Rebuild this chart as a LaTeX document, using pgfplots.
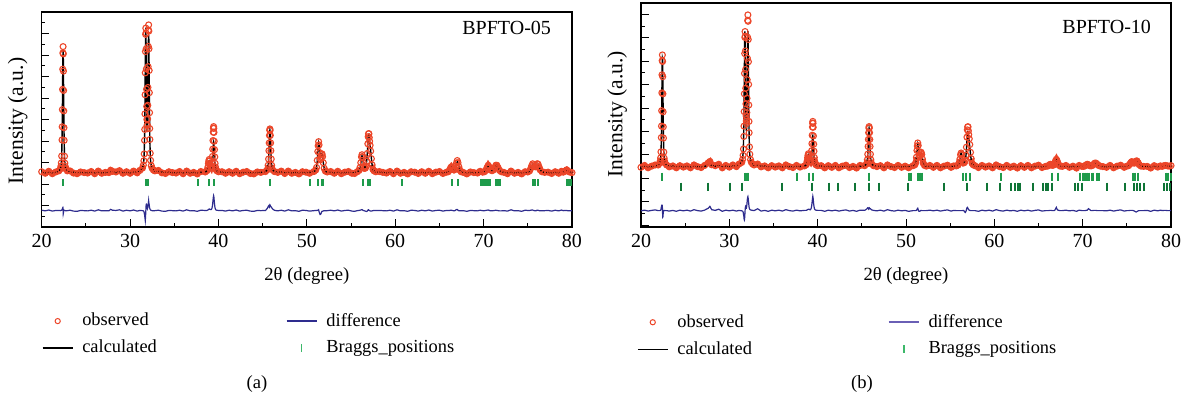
\documentclass[border=0pt]{standalone}
\usepackage{fontspec}
\setmainfont{Liberation Serif}
\usepackage{pgfplots}
\usepackage{pgfplotstable}
\pgfplotsset{compat=1.18}

\definecolor{obsred}{HTML}{EC4629}
\definecolor{diffblue}{HTML}{2E2C8E}
\definecolor{difflight}{HTML}{6A5FB5}
\definecolor{braggA}{HTML}{1E9B4B}
\definecolor{braggB}{HTML}{0F7436}
\definecolor{legendgreen}{HTML}{3DB86A}

\pgfplotstableread{
x obs calc diff
20.0 2.57 2.53 0.78
20.4 2.50 2.53 0.75
20.8 2.59 2.53 0.79
21.2 2.48 2.53 0.74
21.6 2.56 2.54 0.77
21.94 2.61 2.60 0.77
22.10 2.70 2.70 0.76
22.18 2.83 2.82 0.77
22.22 2.98 2.96 0.78
22.26 3.30 3.28 0.78
22.30 4.05 4.01 0.80
22.32 4.66 4.60 0.82
22.34 5.46 5.38 0.84
22.36 6.40 6.29 0.87
22.38 7.34 7.20 0.90
22.40 8.10 7.95 0.91
22.42 8.39 8.23 0.88
22.44 8.05 7.95 0.62
22.46 7.25 7.20 0.66
22.48 6.35 6.29 0.74
22.50 5.40 5.38 0.78
22.52 4.62 4.60 0.77
22.54 4.03 4.01 0.78
22.58 3.29 3.28 0.77
22.62 2.97 2.96 0.77
22.66 2.82 2.82 0.76
22.74 2.70 2.70 0.76
22.90 2.61 2.61 0.76
23.2 2.61 2.56 0.78
23.6 2.51 2.55 0.74
24.0 2.48 2.54 0.73
24.4 2.56 2.53 0.77
24.8 2.53 2.53 0.76
25.2 2.51 2.53 0.75
25.6 2.58 2.53 0.78
26.0 2.48 2.53 0.74
26.4 2.60 2.53 0.80
26.8 2.50 2.53 0.75
27.2 2.54 2.53 0.76
27.6 2.53 2.55 0.75
27.8 2.64 2.56 0.82
28.0 2.59 2.55 0.78
28.4 2.56 2.54 0.77
28.8 2.62 2.56 0.80
29.2 2.50 2.54 0.74
29.6 2.57 2.53 0.78
30.0 2.50 2.53 0.75
30.4 2.60 2.54 0.79
30.8 2.52 2.57 0.74
31.1 2.63 2.61 0.77
31.40 2.74 2.74 0.76
31.50 2.88 2.89 0.75
31.56 3.08 3.12 0.72
31.60 3.40 3.50 0.66
31.64 4.03 4.22 0.57
31.66 4.54 4.80 0.50
31.68 5.26 5.60 0.42
31.70 6.15 6.55 0.36
31.72 7.17 7.60 0.30
31.74 8.16 8.50 0.42
31.76 8.96 9.15 0.57
31.78 9.25 9.27 0.74
31.80 9.02 8.85 0.93
31.82 8.28 8.00 1.04
31.84 7.35 7.05 1.06
31.86 6.41 6.12 1.05
31.88 5.61 5.38 0.99
31.90 5.00 4.82 0.94
31.92 4.72 4.58 0.90
31.94 4.57 4.45 0.88
31.96 4.74 4.65 0.85
31.98 5.03 4.91 0.88
32.00 5.66 5.50 0.92
32.02 6.49 6.28 0.97
32.04 7.46 7.18 1.04
32.06 8.40 8.06 1.10
32.08 9.16 8.78 1.14
32.10 9.40 8.94 1.22
32.12 9.11 8.73 1.14
32.14 8.29 7.95 1.10
32.16 7.28 7.00 1.04
32.18 6.25 6.04 0.97
32.20 5.32 5.16 0.92
32.22 4.58 4.46 0.88
32.24 4.07 3.98 0.85
32.28 3.43 3.38 0.81
32.32 3.10 3.07 0.79
32.40 2.85 2.84 0.77
32.50 2.73 2.73 0.76
32.64 2.65 2.65 0.76
32.80 2.61 2.61 0.76
33.2 2.63 2.58 0.78
33.6 2.52 2.56 0.74
34.0 2.49 2.55 0.73
34.4 2.57 2.54 0.77
34.8 2.53 2.53 0.76
35.2 2.51 2.53 0.75
35.6 2.58 2.53 0.78
36.0 2.48 2.53 0.74
36.4 2.60 2.53 0.80
36.8 2.50 2.53 0.75
37.2 2.54 2.53 0.76
37.6 2.47 2.53 0.73
38.0 2.58 2.54 0.78
38.50 2.56 2.55 0.77
38.70 2.62 2.61 0.77
38.80 2.78 2.75 0.79
38.86 2.95 2.90 0.81
38.90 3.06 3.00 0.82
38.95 3.14 3.06 0.84
39.00 3.08 3.01 0.83
39.06 2.92 2.86 0.82
39.12 2.80 2.75 0.81
39.18 2.76 2.71 0.81
39.24 2.83 2.74 0.85
39.28 2.99 2.85 0.90
39.32 3.28 3.05 0.99
39.35 3.62 3.28 1.10
39.38 4.02 3.55 1.23
39.41 4.41 3.81 1.36
39.43 4.60 3.94 1.42
39.45 4.67 3.97 1.46
39.47 4.59 3.92 1.43
39.49 4.40 3.80 1.36
39.52 3.99 3.53 1.22
39.55 3.60 3.27 1.09
39.58 3.26 3.04 0.98
39.62 2.96 2.84 0.88
39.66 2.79 2.72 0.83
39.72 2.68 2.65 0.79
39.80 2.62 2.60 0.78
40.00 2.57 2.56 0.77
40.4 2.57 2.55 0.77
40.8 2.50 2.54 0.74
41.2 2.57 2.53 0.78
41.6 2.50 2.53 0.75
42.0 2.59 2.53 0.79
42.4 2.48 2.53 0.74
42.8 2.55 2.53 0.77
43.2 2.58 2.53 0.78
43.6 2.49 2.53 0.74
44.0 2.47 2.53 0.73
44.4 2.56 2.53 0.77
44.8 2.54 2.54 0.76
45.32 2.58 2.58 0.77
45.52 2.66 2.66 0.86
45.62 2.87 2.86 0.95
45.67 3.16 3.14 0.98
45.71 3.55 3.52 1.00
45.74 3.91 3.87 0.96
45.77 4.26 4.21 0.92
45.80 4.50 4.44 0.94
45.82 4.56 4.50 0.98
45.84 4.50 4.44 1.02
45.87 4.26 4.21 1.00
45.90 3.91 3.87 0.97
45.93 3.55 3.52 0.95
45.97 3.16 3.14 0.93
46.02 2.87 2.86 0.90
46.12 2.66 2.66 0.84
46.32 2.58 2.58 0.78
46.7 2.54 2.56 0.75
47.1 2.60 2.55 0.78
47.5 2.49 2.54 0.74
47.9 2.60 2.53 0.80
48.3 2.50 2.53 0.75
48.7 2.54 2.53 0.76
49.1 2.47 2.53 0.73
49.5 2.57 2.53 0.78
49.9 2.55 2.53 0.77
50.3 2.50 2.54 0.74
50.80 2.58 2.58 0.76
51.00 2.65 2.64 0.77
51.10 2.77 2.76 0.77
51.18 3.10 3.08 0.78
51.24 3.51 3.49 0.78
51.28 3.78 3.76 0.78
51.33 3.97 3.93 0.80
51.38 3.82 3.86 0.72
51.44 3.46 3.58 0.64
51.50 3.18 3.36 0.58
51.56 3.13 3.30 0.59
51.62 3.23 3.35 0.64
51.68 3.37 3.42 0.71
51.72 3.40 3.43 0.73
51.78 3.27 3.30 0.73
51.86 2.99 3.00 0.75
51.96 2.73 2.73 0.76
52.10 2.60 2.60 0.76
52.30 2.56 2.56 0.76
52.7 2.58 2.54 0.78
53.1 2.50 2.53 0.75
53.5 2.59 2.53 0.79
53.9 2.48 2.53 0.74
54.3 2.55 2.53 0.77
54.7 2.58 2.53 0.78
55.1 2.50 2.54 0.74
55.4 2.49 2.55 0.73
55.70 2.57 2.57 0.76
55.90 2.63 2.62 0.77
56.02 2.77 2.75 0.78
56.10 2.99 2.96 0.79
56.18 3.26 3.22 0.80
56.24 3.36 3.31 0.81
56.30 3.27 3.24 0.79
56.38 3.01 3.00 0.77
56.46 2.82 2.82 0.76
56.54 2.73 2.74 0.75
56.62 2.74 2.76 0.74
56.70 2.81 2.84 0.73
56.78 3.06 3.10 0.72
56.84 3.42 3.44 0.74
56.90 3.87 3.86 0.77
56.94 4.20 4.16 0.80
56.98 4.34 4.30 0.80
57.02 4.34 4.31 0.79
57.06 4.16 4.15 0.77
57.10 3.99 3.99 0.76
57.16 3.80 3.81 0.75
57.22 3.53 3.55 0.74
57.30 3.18 3.20 0.74
57.38 2.89 2.90 0.75
57.48 2.68 2.68 0.76
57.60 2.61 2.60 0.77
57.80 2.57 2.56 0.77
58.2 2.58 2.55 0.77
58.6 2.54 2.54 0.76
59.0 2.51 2.53 0.75
59.4 2.58 2.53 0.78
59.8 2.48 2.53 0.74
60.2 2.60 2.53 0.80
60.6 2.50 2.53 0.75
61.0 2.54 2.53 0.76
61.4 2.47 2.53 0.73
61.8 2.57 2.53 0.78
62.2 2.55 2.53 0.77
62.6 2.49 2.53 0.74
63.0 2.57 2.53 0.78
63.4 2.50 2.53 0.75
63.8 2.59 2.53 0.79
64.2 2.48 2.53 0.74
64.6 2.55 2.53 0.77
65.0 2.58 2.53 0.78
65.4 2.49 2.53 0.74
65.80 2.55 2.54 0.77
66.00 2.57 2.56 0.77
66.15 2.65 2.64 0.77
66.25 2.74 2.72 0.78
66.35 2.80 2.78 0.78
66.45 2.74 2.73 0.77
66.55 2.68 2.68 0.76
66.65 2.65 2.65 0.76
66.75 2.68 2.68 0.76
66.85 2.83 2.80 0.79
66.93 2.98 2.93 0.81
67.02 3.09 3.04 0.81
67.10 2.99 2.97 0.78
67.20 2.80 2.80 0.76
67.30 2.65 2.66 0.75
67.45 2.57 2.57 0.76
67.70 2.54 2.54 0.76
68.1 2.47 2.53 0.73
68.5 2.56 2.53 0.77
68.9 2.53 2.53 0.76
69.3 2.51 2.53 0.75
69.6 2.59 2.54 0.78
69.90 2.55 2.55 0.76
70.10 2.57 2.57 0.76
70.25 2.63 2.62 0.77
70.38 2.76 2.74 0.78
70.52 2.87 2.84 0.79
70.66 2.78 2.77 0.77
70.80 2.65 2.66 0.75
70.95 2.62 2.62 0.76
71.10 2.65 2.65 0.76
71.25 2.76 2.75 0.77
71.38 2.87 2.85 0.78
71.50 2.87 2.86 0.77
71.65 2.75 2.75 0.76
71.80 2.63 2.64 0.75
72.00 2.57 2.58 0.75
72.30 2.54 2.54 0.76
72.7 2.48 2.53 0.74
73.1 2.60 2.53 0.80
73.5 2.50 2.53 0.75
73.9 2.54 2.53 0.76
74.3 2.47 2.53 0.73
74.7 2.57 2.53 0.78
75.00 2.56 2.55 0.77
75.20 2.61 2.60 0.77
75.35 2.74 2.72 0.78
75.45 2.86 2.83 0.79
75.55 2.94 2.91 0.79
75.65 2.89 2.88 0.77
75.75 2.82 2.82 0.76
75.85 2.80 2.81 0.75
75.95 2.87 2.87 0.76
76.05 2.94 2.92 0.78
76.15 2.93 2.91 0.78
76.28 2.79 2.79 0.76
76.40 2.66 2.67 0.75
76.60 2.57 2.57 0.76
76.90 2.54 2.54 0.76
77.3 2.55 2.53 0.77
77.7 2.49 2.53 0.74
78.1 2.57 2.53 0.78
78.5 2.50 2.53 0.75
78.8 2.59 2.53 0.79
79.00 2.55 2.55 0.76
79.20 2.60 2.59 0.77
79.40 2.66 2.65 0.77
79.60 2.58 2.59 0.75
79.80 2.55 2.55 0.76
80.00 2.53 2.53 0.76
}\dataA

\pgfplotstableread{
x obs calc diff
20.0 2.47 2.50 0.61
20.4 2.55 2.50 0.64
20.8 2.45 2.50 0.60
21.2 2.52 2.50 0.63
21.6 2.57 2.51 0.65
21.94 2.57 2.57 0.62
22.10 2.64 2.64 0.62
22.18 2.74 2.73 0.63
22.22 2.87 2.85 0.64
22.26 3.13 3.08 0.67
22.30 3.74 3.60 0.76
22.32 4.23 4.05 0.80
22.34 4.89 4.68 0.83
22.36 5.65 5.45 0.82
22.38 6.42 6.25 0.79
22.40 7.03 6.90 0.75
22.42 7.27 7.12 0.77
22.44 6.99 7.08 0.53
22.46 6.34 6.62 0.34
22.48 5.61 5.88 0.35
22.50 4.84 5.02 0.44
22.52 4.20 4.30 0.52
22.54 3.72 3.76 0.58
22.58 3.12 3.12 0.62
22.62 2.86 2.85 0.63
22.66 2.74 2.73 0.63
22.74 2.64 2.64 0.62
22.90 2.57 2.57 0.62
23.2 2.49 2.53 0.60
23.6 2.53 2.52 0.63
24.0 2.45 2.51 0.59
24.4 2.54 2.50 0.64
24.8 2.48 2.50 0.61
25.2 2.53 2.50 0.64
25.6 2.45 2.50 0.60
26.0 2.57 2.50 0.66
26.4 2.50 2.50 0.62
26.8 2.46 2.50 0.60
27.2 2.55 2.50 0.64
27.6 2.66 2.58 0.72
27.8 2.72 2.60 0.80
28.0 2.58 2.55 0.66
28.4 2.54 2.52 0.63
28.8 2.60 2.54 0.68
29.2 2.45 2.51 0.59
29.6 2.55 2.51 0.64
30.0 2.48 2.51 0.61
30.4 2.57 2.52 0.64
30.8 2.50 2.55 0.60
31.1 2.61 2.59 0.63
31.40 2.68 2.71 0.61
31.50 2.81 2.84 0.60
31.56 2.98 3.09 0.56
31.60 3.25 3.48 0.48
31.64 3.79 4.23 0.38
31.66 4.23 4.85 0.30
31.68 4.85 5.63 0.24
31.70 5.61 6.49 0.22
31.72 6.48 7.35 0.26
31.74 7.33 8.04 0.34
31.76 8.02 8.28 0.46
31.78 8.27 8.08 0.60
31.80 8.07 7.43 0.70
31.82 7.44 6.63 0.78
31.84 6.65 5.80 0.80
31.86 5.85 5.08 0.78
31.88 5.18 4.54 0.74
31.90 4.67 4.19 0.72
31.92 4.45 4.05 0.72
31.94 4.34 4.05 0.74
31.96 4.52 4.20 0.80
31.98 4.81 4.54 0.86
32.00 5.42 5.08 0.94
32.02 6.21 5.81 1.02
32.04 7.13 6.63 1.10
32.06 8.03 7.43 1.16
32.08 8.75 8.08 1.20
32.10 8.98 8.29 1.22
32.12 8.71 8.05 1.18
32.14 7.93 7.35 1.12
32.16 6.98 6.51 1.05
32.18 6.01 5.64 0.98
32.20 5.13 4.85 0.90
32.22 4.43 4.23 0.82
32.24 3.95 3.80 0.76
32.28 3.34 3.25 0.70
32.32 3.03 2.98 0.67
32.40 2.80 2.77 0.65
32.50 2.68 2.66 0.64
32.64 2.61 2.60 0.63
32.80 2.57 2.56 0.62
33.2 2.61 2.55 0.70
33.6 2.49 2.53 0.60
34.0 2.53 2.52 0.63
34.4 2.45 2.51 0.59
34.8 2.54 2.50 0.64
35.2 2.48 2.50 0.61
35.6 2.53 2.50 0.64
36.0 2.45 2.50 0.60
36.4 2.57 2.50 0.66
36.8 2.50 2.50 0.62
37.2 2.46 2.50 0.60
37.6 2.55 2.50 0.64
38.0 2.48 2.51 0.61
38.50 2.53 2.52 0.63
38.70 2.58 2.57 0.63
38.80 2.73 2.70 0.65
38.86 2.88 2.84 0.66
38.90 2.98 2.93 0.67
38.95 3.05 2.99 0.68
39.00 3.00 2.94 0.68
39.06 2.85 2.80 0.67
39.12 2.74 2.70 0.66
39.18 2.71 2.67 0.66
39.24 2.77 2.69 0.70
39.28 2.91 2.79 0.74
39.32 3.18 2.98 0.82
39.35 3.48 3.19 0.91
39.38 3.84 3.44 1.02
39.41 4.19 3.68 1.13
39.43 4.36 3.80 1.18
39.45 4.43 3.82 1.23
39.47 4.35 3.78 1.19
39.49 4.18 3.67 1.13
39.52 3.81 3.42 1.01
39.55 3.46 3.18 0.90
39.58 3.16 2.97 0.81
39.62 2.89 2.79 0.72
39.66 2.73 2.67 0.68
39.72 2.64 2.61 0.65
39.80 2.58 2.56 0.64
40.00 2.54 2.53 0.63
40.4 2.54 2.52 0.63
40.8 2.45 2.51 0.59
41.2 2.54 2.50 0.64
41.6 2.47 2.50 0.61
42.0 2.55 2.50 0.64
42.4 2.45 2.50 0.60
42.8 2.52 2.50 0.63
43.2 2.56 2.50 0.65
43.6 2.46 2.50 0.60
44.0 2.51 2.50 0.63
44.4 2.44 2.50 0.59
44.8 2.55 2.51 0.64
45.32 2.54 2.54 0.63
45.52 2.61 2.61 0.68
45.62 2.79 2.77 0.72
45.67 3.03 3.01 0.74
45.71 3.36 3.32 0.73
45.74 3.66 3.61 0.70
45.77 3.95 3.89 0.68
45.80 4.15 4.09 0.70
45.82 4.21 4.14 0.72
45.84 4.15 4.09 0.74
45.87 3.95 3.89 0.73
45.90 3.66 3.61 0.71
45.93 3.36 3.32 0.70
45.97 3.03 3.01 0.70
46.02 2.79 2.77 0.68
46.12 2.61 2.61 0.65
46.32 2.54 2.54 0.63
46.7 2.50 2.52 0.61
47.1 2.54 2.51 0.64
47.5 2.45 2.50 0.60
47.9 2.57 2.50 0.66
48.3 2.50 2.50 0.62
48.7 2.46 2.50 0.60
49.1 2.55 2.50 0.64
49.5 2.47 2.50 0.61
49.9 2.52 2.50 0.63
50.3 2.45 2.51 0.59
50.80 2.54 2.54 0.62
51.00 2.58 2.58 0.62
51.10 2.67 2.67 0.62
51.18 2.90 2.89 0.63
51.24 3.19 3.17 0.66
51.28 3.38 3.35 0.70
51.33 3.51 3.47 0.72
51.38 3.40 3.40 0.66
51.44 3.15 3.17 0.60
51.50 2.96 2.99 0.59
51.56 2.92 2.95 0.59
51.62 2.99 3.00 0.61
51.68 3.09 3.08 0.63
51.72 3.11 3.10 0.63
51.78 3.02 3.02 0.62
51.86 2.82 2.82 0.62
51.96 2.64 2.64 0.62
52.10 2.55 2.55 0.62
52.30 2.52 2.52 0.62
52.7 2.55 2.51 0.64
53.1 2.47 2.50 0.61
53.5 2.55 2.50 0.64
53.9 2.45 2.50 0.60
54.3 2.52 2.50 0.63
54.7 2.56 2.50 0.65
55.1 2.47 2.51 0.60
55.4 2.53 2.52 0.63
55.70 2.53 2.53 0.62
55.90 2.57 2.57 0.62
56.02 2.67 2.67 0.62
56.10 2.82 2.82 0.62
56.18 3.01 3.01 0.62
56.24 3.08 3.08 0.62
56.30 3.02 3.02 0.62
56.38 2.84 2.84 0.62
56.46 2.72 2.71 0.63
56.54 2.66 2.65 0.62
56.62 2.68 2.67 0.58
56.70 2.75 2.73 0.54
56.78 2.99 2.94 0.58
56.84 3.33 3.24 0.66
56.90 3.76 3.61 0.74
56.94 4.07 3.88 0.76
56.98 4.20 4.00 0.74
57.02 4.20 4.00 0.72
57.06 4.03 3.85 0.68
57.10 3.87 3.71 0.66
57.16 3.69 3.55 0.64
57.22 3.44 3.33 0.63
57.30 3.11 3.04 0.62
57.38 2.84 2.80 0.62
57.48 2.64 2.62 0.62
57.60 2.58 2.57 0.62
57.80 2.54 2.53 0.62
58.2 2.46 2.52 0.59
58.6 2.55 2.51 0.64
59.0 2.48 2.50 0.61
59.4 2.53 2.50 0.64
59.8 2.45 2.50 0.60
60.2 2.57 2.50 0.66
60.6 2.50 2.50 0.62
61.0 2.46 2.50 0.60
61.4 2.55 2.50 0.64
61.8 2.47 2.50 0.61
62.2 2.52 2.50 0.63
62.6 2.44 2.50 0.59
63.0 2.54 2.50 0.64
63.4 2.47 2.50 0.61
63.8 2.55 2.50 0.64
64.2 2.45 2.50 0.60
64.6 2.52 2.50 0.63
65.0 2.56 2.50 0.65
65.4 2.46 2.50 0.60
65.80 2.51 2.51 0.62
66.00 2.52 2.52 0.62
66.15 2.54 2.54 0.62
66.25 2.58 2.57 0.63
66.35 2.60 2.59 0.63
66.45 2.58 2.57 0.63
66.55 2.56 2.56 0.62
66.65 2.56 2.56 0.62
66.75 2.58 2.58 0.62
66.85 2.66 2.64 0.64
66.93 2.75 2.72 0.70
67.02 2.81 2.77 0.76
67.10 2.75 2.72 0.68
67.20 2.65 2.63 0.64
67.30 2.57 2.56 0.63
67.45 2.52 2.52 0.62
67.70 2.51 2.51 0.62
68.1 2.55 2.50 0.64
68.5 2.47 2.50 0.61
68.9 2.52 2.50 0.63
69.3 2.44 2.50 0.59
69.6 2.55 2.51 0.64
69.90 2.51 2.51 0.62
70.10 2.51 2.51 0.62
70.25 2.53 2.53 0.62
70.38 2.57 2.56 0.63
70.52 2.60 2.59 0.64
70.66 2.58 2.57 0.70
70.80 2.54 2.54 0.66
70.95 2.53 2.53 0.62
71.10 2.55 2.55 0.62
71.25 2.60 2.59 0.63
71.38 2.65 2.64 0.63
71.50 2.65 2.64 0.63
71.65 2.60 2.60 0.62
71.80 2.55 2.55 0.62
72.00 2.52 2.52 0.62
72.30 2.50 2.50 0.62
72.7 2.47 2.50 0.61
73.1 2.55 2.50 0.64
73.5 2.45 2.50 0.60
73.9 2.52 2.50 0.63
74.3 2.56 2.50 0.65
74.7 2.47 2.51 0.60
75.00 2.52 2.52 0.62
75.20 2.54 2.54 0.62
75.35 2.61 2.60 0.63
75.45 2.67 2.66 0.63
75.55 2.71 2.70 0.63
75.65 2.69 2.68 0.63
75.75 2.66 2.66 0.62
75.85 2.65 2.66 0.60
75.95 2.70 2.72 0.58
76.05 2.74 2.76 0.56
76.15 2.74 2.75 0.58
76.28 2.66 2.66 0.61
76.40 2.58 2.58 0.62
76.60 2.52 2.52 0.62
76.90 2.51 2.51 0.62
77.3 2.51 2.50 0.63
77.7 2.44 2.50 0.59
78.1 2.54 2.50 0.64
78.5 2.48 2.50 0.61
78.8 2.53 2.50 0.64
79.00 2.51 2.51 0.62
79.20 2.54 2.53 0.63
79.40 2.55 2.54 0.63
79.60 2.53 2.53 0.62
79.80 2.52 2.52 0.62
80.00 2.54 2.51 0.63
}\dataB

\pgfplotstableread{
x y
22.40 2.06
31.78 2.06
31.92 2.06
32.08 2.06
37.66 2.06
38.98 2.06
39.47 2.06
45.83 2.06
50.40 2.06
51.26 2.06
51.67 2.06
51.86 2.06
56.35 2.06
56.88 2.06
57.18 2.06
60.75 2.06
66.38 2.06
67.12 2.06
69.65 2.06
69.85 2.06
70.02 2.06
70.20 2.06
70.38 2.06
70.55 2.06
70.70 2.06
71.35 2.06
71.60 2.06
71.82 2.06
75.56 2.06
75.87 2.06
76.17 2.06
79.38 2.06
79.65 2.06
79.92 2.06
}\braggA

\pgfplotstableread{
x y
22.42 2.07
31.82 2.07
31.97 2.07
32.12 2.07
37.68 2.07
39.02 2.07
39.50 2.07
45.84 2.07
50.35 2.07
50.60 2.07
51.34 2.07
51.60 2.07
51.86 2.07
56.50 2.07
56.80 2.07
57.20 2.07
60.77 2.07
66.50 2.07
67.25 2.07
69.72 2.07
69.98 2.07
70.24 2.07
70.50 2.07
70.75 2.07
71.00 2.07
71.22 2.07
71.60 2.07
71.90 2.07
75.64 2.07
75.94 2.07
76.24 2.07
79.45 2.07
79.70 2.07
79.95 2.07
}\braggBa

\pgfplotstableread{
x y
24.53 1.64
27.55 1.64
30.08 1.64
31.47 1.64
36.00 1.64
39.37 1.64
41.25 1.64
42.27 1.64
44.24 1.64
45.86 1.64
46.95 1.64
50.27 1.64
54.35 1.64
56.89 1.64
59.15 1.64
60.66 1.64
61.90 1.64
62.36 1.64
62.65 1.64
62.92 1.64
64.32 1.64
65.56 1.64
65.83 1.64
66.10 1.64
66.50 1.64
69.15 1.64
69.52 1.64
69.90 1.64
72.74 1.64
74.81 1.64
75.76 1.64
76.20 1.64
76.50 1.64
76.90 1.64
79.15 1.64
79.53 1.64
79.90 1.64
}\braggBb

\pgfplotsset{
  xrdaxis/.style={
    scale only axis,
    xmin=20, xmax=80,
    xtick={20,30,...,80}, minor x tick num=1,
    minor y tick num=1,
    yticklabels={},
    tick align=inside, tick pos=left,
    major tick length=3.8pt, minor tick length=1.9pt,
    tick style={black, line width=0.5pt},
    axis line style={line width=0.8pt},
    /pgf/number format/assume math mode=true,
    ticklabel style={font=\fontsize{10}{12}\selectfont},
    xlabel style={font=\fontsize{9.3}{11}\selectfont},
    ylabel style={font=\fontsize{10.8}{13}\selectfont},
    xlabel={2θ (degree)},
    ylabel={Intensity (a.u.)},
    clip=false,
    legend columns=2,
    legend cell align=left,
    legend image code/.code={\draw[mark repeat=2,mark phase=2,##1] plot coordinates {(0pt,0pt) (7.5pt,0pt) (15pt,0pt)};},
    legend style={draw=none, fill=none, inner sep=0pt, anchor=north west,
      font=\fontsize{9.2}{11}\selectfont, row sep=1.5pt,
      /tikz/every odd column/.append style={column sep=2.5pt}},
  },
  bandline/.style={obsred, line width=2.8pt, restrict y to domain=0:2.9, unbounded coords=jump, forget plot},
}

\begin{document}
\begin{tikzpicture}
\useasboundingbox (0,0) rectangle (594pt,201pt);

\begin{axis}[xrdaxis,
  at={(20.85pt,87.5pt)}, anchor=south west,
  width=265.15pt, height=107.5pt,
  ymin=0, ymax=10, ytick={0,1,...,10},
  xlabel style={at={(axis description cs:0.5,-0.228)}, anchor=center},
  ylabel style={at={(axis description cs:-0.045,0.493)}, anchor=center},
  legend style={at={(0,-0.38)}, /tikz/every even column/.append style={column sep=62.5pt}},
]
\addplot[bandline] table[x=x, y=obs] {\dataA};
\addplot[only marks, mark=o, mark size=1.5pt, color=obsred, mark options={line width=0.55pt}, forget plot] table[x=x, y=obs] {\dataA};
\addplot[black, line width=0.7pt, mark=none, forget plot] table[x=x, y=calc] {\dataA};
\addplot[diffblue, line width=0.6pt, mark=none, forget plot] table[x=x, y=diff] {\dataA};
\addplot[only marks, mark=|, mark size=1.75pt, color=braggA, mark options={line width=1pt}, forget plot] table[x=x, y=y] {\braggA};

\addlegendimage{only marks, mark=o, mark size=1.3pt, color=obsred, mark options={line width=0.5pt}}
\addlegendentry{observed}
\addlegendimage{diffblue, line width=0.8pt, mark=none}
\addlegendentry{difference}
\addlegendimage{black, line width=0.6pt, mark=none}
\addlegendentry{calculated}
\addlegendimage{only marks, mark=|, mark size=2pt, color=legendgreen, mark options={line width=0.8pt}}
\addlegendentry{Braggs\_positions}

\node[anchor=east, font=\fontsize{10}{12}\selectfont] at (rel axis cs:0.9736,0.9256) {BPFTO-05};
\node[font=\fontsize{9.3}{11}\selectfont] at (rel axis cs:0.406,-0.73) {(a)};
\end{axis}

\begin{axis}[xrdaxis,
  at={(320.5pt,87.5pt)}, anchor=south west,
  width=265pt, height=112pt,
  ymin=-0.08, ymax=9.49, ytick={0,1,...,9},
  xlabel style={at={(axis description cs:0.5,-0.219)}, anchor=center},
  ylabel style={at={(axis description cs:-0.045,0.504)}, anchor=center},
  legend style={at={(-0.008,-0.37)}, /tikz/every even column/.append style={column sep=66pt}},
]
\addplot[bandline] table[x=x, y=obs] {\dataB};
\addplot[only marks, mark=o, mark size=1.5pt, color=obsred, mark options={line width=0.55pt}, forget plot] table[x=x, y=obs] {\dataB};
\addplot[black, line width=0.7pt, mark=none, forget plot] table[x=x, y=calc] {\dataB};
\addplot[diffblue, line width=0.6pt, mark=none, forget plot] table[x=x, y=diff] {\dataB};
\addplot[only marks, mark=|, mark size=2pt, color=braggA, mark options={line width=1pt}, forget plot] table[x=x, y=y] {\braggBa};
\addplot[only marks, mark=|, mark size=2pt, color=braggB, mark options={line width=1pt}, forget plot] table[x=x, y=y] {\braggBb};

\addlegendimage{only marks, mark=o, mark size=1.3pt, color=obsred, mark options={line width=0.5pt}}
\addlegendentry{observed}
\addlegendimage{difflight, line width=0.8pt, mark=none}
\addlegendentry{difference}
\addlegendimage{black, line width=0.6pt, mark=none}
\addlegendentry{calculated}
\addlegendimage{only marks, mark=|, mark size=2pt, color=legendgreen, mark options={line width=0.8pt}}
\addlegendentry{Braggs\_positions}

\node[anchor=east, font=\fontsize{10}{12}\selectfont] at (rel axis cs:0.9755,0.894) {BPFTO-10};
\node[font=\fontsize{9.3}{11}\selectfont] at (rel axis cs:0.417,-0.70) {(b)};
\end{axis}
\end{tikzpicture}
\end{document}
